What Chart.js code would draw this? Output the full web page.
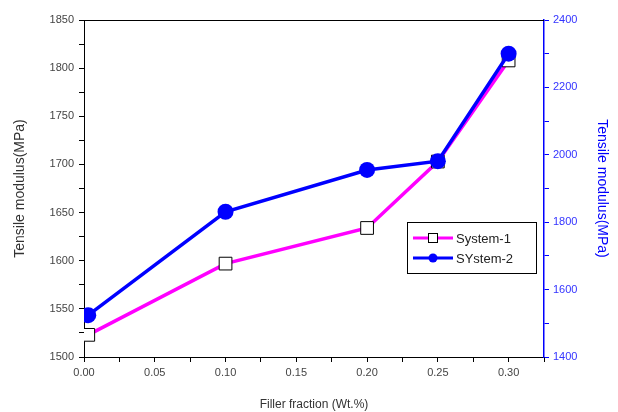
<!DOCTYPE html>
<html>
<head>
<meta charset="utf-8">
<script src="https://cdn.jsdelivr.net/npm/chart.js@4"></script>
<style>
  html, body { margin: 0; padding: 0; background: #fff; }
  #wrap { width: 618px; height: 412px; }
</style>
</head>
<body>
<div id="wrap"><canvas id="myChart" width="618" height="412"></canvas></div>
<script>
// données
const fractions = [0.003, 0.10, 0.20, 0.25, 0.30]
const system1 = [1523, 1597, 1634, 1703, 1808]   // axe gauche (MPa)
const system2 = [1524, 1831, 1955, 1981, 2300]   // axe droit (MPa)
const seriesNames = ["System-1", "SYstem-2"]

const FONT = "'Liberation Sans', Arial, sans-serif"

// cadre du haut + légende dessinée à la main
const frameLegend = {
    id: 'frameLegend',
    afterDraw(chart) {
        const ctx = chart.ctx
        const a = chart.chartArea
        ctx.save()
        ctx.strokeStyle = '#000'
        ctx.lineWidth = 1
        ctx.beginPath()
        ctx.moveTo(a.left, a.top + 0.5)
        ctx.lineTo(a.right, a.top + 0.5)
        ctx.stroke()

        // légende
        const bx = 407, by = 222, bw = 129, bh = 51
        ctx.fillStyle = '#fff'
        ctx.fillRect(bx, by, bw, bh)
        ctx.strokeStyle = '#000'
        ctx.strokeRect(bx + 0.5, by + 0.5, bw, bh)
        const rows = [by + 16, by + 36]
        chart.data.datasets.forEach((ds, i) => {
            const y = rows[i]
            ctx.strokeStyle = ds.borderColor
            ctx.lineWidth = 3
            ctx.beginPath()
            ctx.moveTo(bx + 6, y)
            ctx.lineTo(bx + 46, y)
            ctx.stroke()
            if (ds.pointStyle === 'rect') {
                ctx.fillStyle = '#fff'
                ctx.fillRect(bx + 21, y - 5, 10, 10)
                ctx.strokeStyle = '#000'
                ctx.lineWidth = 1
                ctx.strokeRect(bx + 21.5, y - 4.5, 9, 9)
            } else {
                ctx.fillStyle = ds.pointBackgroundColor
                ctx.beginPath()
                ctx.arc(bx + 26, y, 4.5, 0, Math.PI * 2)
                ctx.fill()
            }
            ctx.fillStyle = '#222'
            ctx.font = '13px ' + FONT
            ctx.textBaseline = 'middle'
            ctx.fillText(ds.label, bx + 49, y + 1)
        })
        ctx.restore()
    }
}

const data = {
    datasets: [
        {
            label: seriesNames[0],
            data: fractions.map((x, i) => ({ x: x, y: system1[i] })),
            yAxisID: 'y',
            borderColor: '#ff00ff',
            borderWidth: 3.5,
            pointStyle: 'rect',
            pointRadius: 9,
            pointBackgroundColor: '#fff',
            pointBorderColor: '#000',
            pointBorderWidth: 1,
            order: 1
        },
        {
            label: seriesNames[1],
            data: fractions.map((x, i) => ({ x: x, y: system2[i] })),
            yAxisID: 'y1',
            borderColor: '#0000ff',
            borderWidth: 3.5,
            pointStyle: 'circle',
            pointRadius: 8,
            pointBackgroundColor: '#0000ff',
            pointBorderColor: '#0000ff',
            pointBorderWidth: 0,
            order: 0
        }
    ]
}

const config = {
    type: 'line',
    data: data,
    plugins: [frameLegend],
    options: {
        responsive: false,
        animation: false,
        layout: { padding: { top: 20, left: 0, right: 0, bottom: 0 } },
        plugins: {
            legend: { display: false },
            tooltip: { enabled: false }
        },
        scales: {
            x: {
                type: 'linear',
                min: 0,
                max: 0.325,
                afterFit: s => { s.height = 55 },
                afterBuildTicks: s => {
                    s.ticks = []
                    for (let k = 0; k <= 13; k++) s.ticks.push({ value: k * 0.025 })
                },
                ticks: {
                    autoSkip: false,
                    maxRotation: 0,
                    padding: 4,
                    color: '#444',
                    font: { family: FONT, size: 11 },
                    callback: v => {
                        const k = Math.round(v * 1000)
                        return (k % 50 === 0 && k <= 300) ? (k / 1000).toFixed(2) : ''
                    }
                },
                grid: { drawOnChartArea: false, color: '#000', tickLength: 5 },
                border: { color: '#000', width: 1 },
                title: {
                    display: true,
                    text: 'Filler fraction (Wt.%)',
                    color: '#333',
                    font: { family: FONT, size: 12 },
                    padding: { top: 6, bottom: 0 }
                }
            },
            y: {
                position: 'left',
                min: 1500,
                max: 1850,
                afterFit: s => { s.width = 84 },
                afterBuildTicks: s => {
                    s.ticks = []
                    for (let v = 1500; v <= 1850; v += 25) s.ticks.push({ value: v })
                },
                ticks: {
                    autoSkip: false,
                    padding: 5,
                    color: '#444',
                    font: { family: FONT, size: 11 },
                    callback: v => v % 50 === 0 ? v : ''
                },
                grid: { drawOnChartArea: false, color: '#000', tickLength: 5 },
                border: { color: '#000', width: 1 },
                title: {
                    display: true,
                    text: 'Tensile modulus(MPa)',
                    color: '#333',
                    font: { family: FONT, size: 14 },
                    padding: { top: 12, bottom: 6 }
                }
            },
            y1: {
                position: 'right',
                min: 1400,
                max: 2400,
                afterFit: s => { s.width = 74 },
                afterBuildTicks: s => {
                    s.ticks = []
                    for (let v = 1400; v <= 2400; v += 100) s.ticks.push({ value: v })
                },
                ticks: {
                    autoSkip: false,
                    padding: 4,
                    color: '#3333ff',
                    font: { family: FONT, size: 11 },
                    callback: v => v % 200 === 0 ? v : ''
                },
                grid: { drawOnChartArea: false, color: '#0000ff', tickLength: 5 },
                border: { color: '#0000ff', width: 1.5 },
                title: {
                    display: true,
                    text: 'Tensile modulus(MPa)',
                    color: '#0000ff',
                    font: { family: FONT, size: 14 },
                    padding: { top: 8, bottom: 0 }
                }
            }
        }
    }
}

new Chart(document.querySelector("#myChart"), config)
</script>
</body>
</html>
